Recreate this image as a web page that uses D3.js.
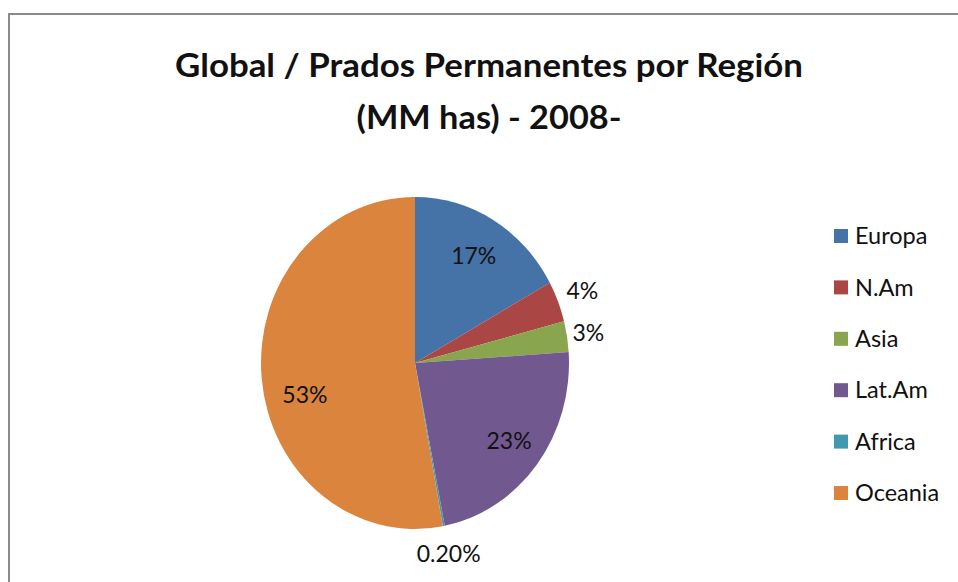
<!DOCTYPE html>
<html>
<head>
<meta charset="utf-8">
<script src="https://cdn.jsdelivr.net/npm/d3@7"></script>
<style>
  body { margin: 0; background: #fff; }
  text { font-family: Lato, "Open Sans", sans-serif; fill: #111; }
</style>
</head>
<body>
<svg id="chart"></svg>
<script>
var regions = ['Europa', 'N.Am', 'Asia', 'Lat.Am', 'Africa', 'Oceania'];
var shares = [17, 4, 3, 23, 0.2, 53];
var labels = ['17%', '4%', '3%', '23%', '0.20%', '53%'];
var colors = ['#4572A7', '#AA4643', '#89A54E', '#71588F', '#4198AF', '#DB843D'];
var titleLines = ['Global / Prados Permanentes por Región', '(MM has) - 2008-'];

var W = 958, H = 582;
var CX = 415, CY = 363, R = 154, SY = 166 / 154;
// label placement: radius factor and small angle nudge per slice
var labelR = [0.75, 1.17, 1.14, 0.77, 1.17, 0.74];
var labelTurn = [0, 0, 0, 0, 0, -0.17];

var svg = d3.select('#chart').attr('width', W).attr('height', H);

// chart area border (only top and left are visible in the crop)
svg.append('path')
    .attr('d', 'M9,' + H + 'V14H' + W)
    .attr('fill', 'none')
    .attr('stroke', '#8a8a8a')
    .attr('stroke-width', 2);

svg.selectAll('text.title').data(titleLines).enter().append('text')
    .attr('class', 'title')
    .attr('x', 489)
    .attr('y', function(d, i) { return 77 + i * 52; })
    .attr('text-anchor', 'middle')
    .style('font-size', '33px')
    .style('font-weight', 'bold')
    .attr('textLength', function(d, i) { return i == 0 ? 628 : 265; })
    .attr('lengthAdjust', 'spacingAndGlyphs')
    .text(function(d) { return d; });

var pie = d3.pie().sort(null).value(function(d) { return d; });
var arcs = pie(shares);
var arc = d3.arc().innerRadius(0).outerRadius(R);

var g = svg.append('g')
    .attr('transform', 'translate(' + CX + ',' + CY + ') scale(1,' + SY + ')');

g.selectAll('path').data(arcs).enter().append('path')
    .attr('d', arc)
    .attr('fill', function(d, i) { return colors[i]; });

svg.selectAll('text.lbl').data(arcs).enter().append('text')
    .attr('class', 'lbl')
    .attr('text-anchor', 'middle')
    .attr('dy', '0.35em')
    .style('font-size', '23px')
    .attr('transform', function(d, i) {
        var a = (d.startAngle + d.endAngle) / 2 + labelTurn[i];
        var r = R * labelR[i];
        var x = CX + Math.sin(a) * r;
        var y = CY - Math.cos(a) * r * SY;
        return 'translate(' + x + ',' + y + ')';
    })
    .text(function(d, i) { return labels[i]; });

var legend = svg.append('g').attr('transform', 'translate(834,229)');
var row = legend.selectAll('g').data(regions).enter().append('g')
    .attr('transform', function(d, i) { return 'translate(0,' + (i * 51.4) + ')'; });
row.append('rect')
    .attr('width', 14).attr('height', 14)
    .attr('fill', function(d, i) { return colors[i]; });
row.append('text')
    .attr('x', 21).attr('y', 7).attr('dy', '0.35em')
    .style('font-size', '23.5px')
    .text(function(d) { return d; });
</script>
</body>
</html>
